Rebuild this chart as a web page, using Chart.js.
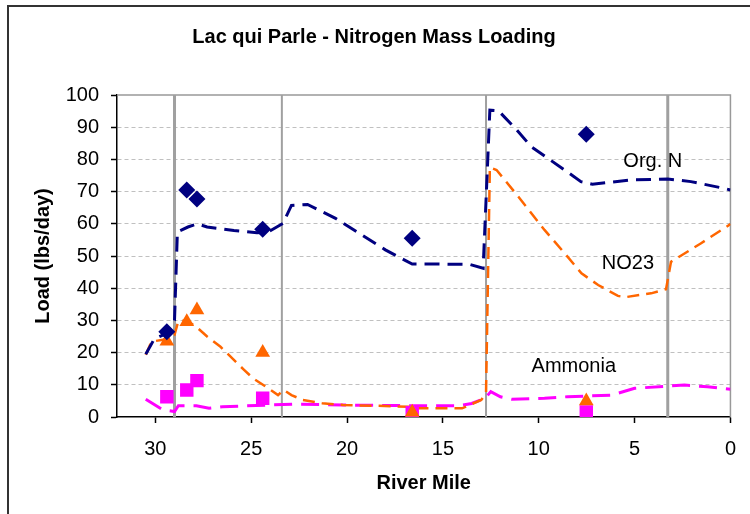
<!DOCTYPE html>
<html>
<head>
<meta charset="utf-8">
<title>Lac qui Parle - Nitrogen Mass Loading</title>
<script src="https://cdn.jsdelivr.net/npm/chart.js@4.4.0/dist/chart.umd.min.js"></script>
<style>
    html, body { margin: 0; padding: 0; background: #fff; }
    #wrap { position: relative; width: 750px; height: 514px; }
    #frame {
        position: absolute; left: 7px; top: 5px; right: 0; bottom: 0;
        border-top: 2px solid #333; border-left: 2px solid #333;
        pointer-events: none;
    }
</style>
</head>
<body>
<div id="wrap">
    <canvas id="chart" width="750" height="514"></canvas>
    <div id="frame"></div>
</div>
<script>
// Modelled profiles (river mile, load in lbs/day)
const orgNMiles = [30.5, 30.06, 29.4, 29.0, 28.85, 28.3, 27.8, 27.3, 25.9, 24.7, 24.1, 23.35, 22.9, 22.06, 20.6, 19.3, 18.0, 16.6, 15.5, 13.6, 12.9, 12.55, 12.1, 11.2, 10.4, 8.65, 7.8, 7.2, 5.2, 3.27, 2.06, 0.33, 0];
const orgNLoad  = [19.5, 24.2, 26.0, 30.0, 57.5, 59.0, 60.0, 59.0, 57.9, 57.2, 57.5, 60.1, 65.7, 66.0, 61.7, 56.8, 51.9, 47.5, 47.5, 47.4, 46.2, 95.3, 95.1, 89.5, 84.0, 76.7, 73.1, 72.3, 73.6, 73.9, 73.1, 71.0, 70.5];

const no23Miles = [30.5, 30.2, 29.6, 29.0, 28.8, 28.4, 27.86, 27.3, 26.6, 25.4, 24.9, 24.1, 23.6, 23.3, 22.9, 22.3, 21.3, 20.2, 18.5, 16.8, 16.3, 14.0, 13.0, 12.75, 12.55, 12.2, 11.06, 9.7, 8.5, 7.77, 6.9, 5.87, 5.5, 4.14, 3.36, 3.1, 1.55, 0.07, 0];
const no23Load  = [19.3, 23.4, 24.0, 25.5, 29.8, 30.0, 28.0, 25.0, 21.8, 14.8, 12.0, 8.9, 6.8, 8.4, 6.8, 5.3, 4.3, 3.7, 3.5, 3.2, 2.7, 2.7, 5.3, 7.4, 77.5, 76.7, 68.4, 58.1, 49.8, 44.6, 41.0, 37.6, 37.2, 38.4, 39.7, 48.2, 53.9, 59.6, 60.0];

const nh3Miles = [30.5, 29.6, 29.0, 28.8, 27.86, 27.2, 26.5, 22.7, 20.2, 16.3, 14.2, 13.5, 12.8, 12.5, 12.0, 11.4, 9.7, 8.5, 6.2, 5.0, 3.27, 2.4, 1.2, 0];
const nh3Load  = [5.5, 2.2, 1.7, 3.5, 3.5, 2.7, 3.2, 4.0, 3.7, 3.5, 3.5, 4.2, 5.8, 7.9, 6.3, 5.5, 5.8, 6.3, 6.8, 8.9, 9.6, 9.9, 9.4, 8.6];

// Observed samples
const sampleMiles = [29.4, 28.36, 27.83, 24.4, 16.6, 7.52];
const orgNObs = [26.5, 70.5, 67.7, 58.3, 55.5, 87.8];
const no23Obs = [23.5, 29.6, 33.2, 20.0, 1.5, 5.0];
const nh3Obs  = [6.3, 8.4, 11.3, 5.8, 1.3, 1.6];

// Reach boundaries (river mile)
const boundaryMiles = [29.0, 23.4, 12.75, 3.27];
const boundaryWidths = [3, 2, 2, 3];

// Series labels written inside the plot
const seriesLabels = ['Org. N', 'NO23', 'Ammonia'];
const labelMiles = [4.05, 5.35, 8.17];
const labelLoads = [79.5, 47.7, 15.8];

const FONT = "Arial, 'Liberation Sans', sans-serif";

function toPoints(xs, ys) {
    return xs.map((x, i) => ({ x: x, y: ys[i] }));
}

function profile(label, xs, ys, color, width, dash) {
    return {
        type: 'line',
        label: label,
        data: toPoints(xs, ys),
        borderColor: color,
        borderWidth: width,
        borderDash: dash,
        pointRadius: 0,
        tension: 0,
        fill: false,
        order: 5
    };
}

function samples(label, ys, color, style, radius) {
    return {
        type: 'scatter',
        label: label,
        data: toPoints(sampleMiles, ys),
        backgroundColor: color,
        borderColor: color,
        borderWidth: 0,
        pointStyle: style,
        pointRadius: radius,
        showLine: false,
        order: 1
    };
}

const boundaryDatasets = boundaryMiles.map((m, i) => ({
    type: 'line',
    label: 'boundary',
    data: [{ x: m, y: 0 }, { x: m, y: 100 }],
    borderColor: '#a0a0a0',
    borderWidth: boundaryWidths[i],
    pointRadius: 0,
    order: 10
}));

// Gray top and right edges of the plot area
const plotFrame = {
    id: 'plotFrame',
    beforeDatasetsDraw(chart) {
        const { ctx, chartArea: a } = chart;
        ctx.save();
        ctx.strokeStyle = '#999';
        ctx.lineWidth = 1.5;
        ctx.beginPath();
        ctx.moveTo(a.left, a.top);
        ctx.lineTo(a.right, a.top);
        ctx.lineTo(a.right, a.bottom);
        ctx.stroke();
        ctx.restore();
    }
};

const seriesText = {
    id: 'seriesText',
    afterDatasetsDraw(chart) {
        const { ctx, scales } = chart;
        ctx.save();
        ctx.font = '20px ' + FONT;
        ctx.fillStyle = '#000';
        ctx.textAlign = 'center';
        ctx.textBaseline = 'middle';
        seriesLabels.forEach((t, i) => {
            ctx.fillText(t, scales.x.getPixelForValue(labelMiles[i]), scales.y.getPixelForValue(labelLoads[i]));
        });
        ctx.restore();
    }
};

const ctx = document.getElementById('chart').getContext('2d');
new Chart(ctx, {
    type: 'line',
    data: {
        datasets: [
            samples('Org. N obs', orgNObs, '#000080', 'rectRot', 8.5),
            samples('NO23 obs', no23Obs, '#ff6600', 'triangle', 8.5),
            samples('Ammonia obs', nh3Obs, '#ff00ff', 'rect', 9.5),
            profile('Org. N', orgNMiles, orgNLoad, '#000080', 3, [15, 8]),
            profile('NO23', no23Miles, no23Load, '#ff6600', 2.5, [12, 7]),
            profile('Ammonia', nh3Miles, nh3Load, '#ff00ff', 3, [18, 9])
        ].concat(boundaryDatasets)
    },
    options: {
        responsive: false,
        animation: false,
        layout: { padding: { left: 15, right: 17, top: 8, bottom: 0 } },
        plugins: {
            legend: { display: false },
            tooltip: { enabled: false },
            title: {
                display: true,
                text: 'Lac qui Parle - Nitrogen Mass Loading',
                color: '#000',
                font: { family: FONT, size: 20, weight: 'bold' },
                padding: { top: 17, bottom: 46 }
            }
        },
        scales: {
            x: {
                type: 'linear',
                min: 0,
                max: 32,
                reverse: true,
                ticks: {
                    stepSize: 5,
                    includeBounds: false,
                    color: '#000',
                    padding: 14,
                    font: { family: FONT, size: 20 }
                },
                grid: { drawOnChartArea: false, tickLength: 6, tickColor: '#000', tickWidth: 1.5 },
                border: { color: '#000', width: 1.5 },
                title: {
                    display: true,
                    text: 'River Mile',
                    color: '#000',
                    font: { family: FONT, size: 20, weight: 'bold' },
                    padding: { top: 0, bottom: 19 }
                },
                afterFit: function(scale) { scale.height = 97; }
            },
            y: {
                type: 'linear',
                min: 0,
                max: 100,
                ticks: {
                    stepSize: 10,
                    color: '#000',
                    padding: 12,
                    font: { family: FONT, size: 20 }
                },
                grid: {
                    color: function(c) {
                        return (c.tick && (c.tick.value === 0 || c.tick.value === 100)) ? 'rgba(0,0,0,0)' : '#c0c0c0';
                    },
                    tickColor: '#000',
                    tickLength: 6,
                    tickWidth: 1.5,
                    tickBorderDash: []
                },
                border: { color: '#000', width: 1.5, dash: [4, 3] },
                title: {
                    display: true,
                    text: 'Load (lbs/day)',
                    color: '#000',
                    font: { family: FONT, size: 20, weight: 'bold' },
                    padding: { top: 16, bottom: 0 }
                },
                afterFit: function(scale) { scale.width = 102; }
            }
        }
    },
    plugins: [plotFrame, seriesText]
});
</script>
</body>
</html>
